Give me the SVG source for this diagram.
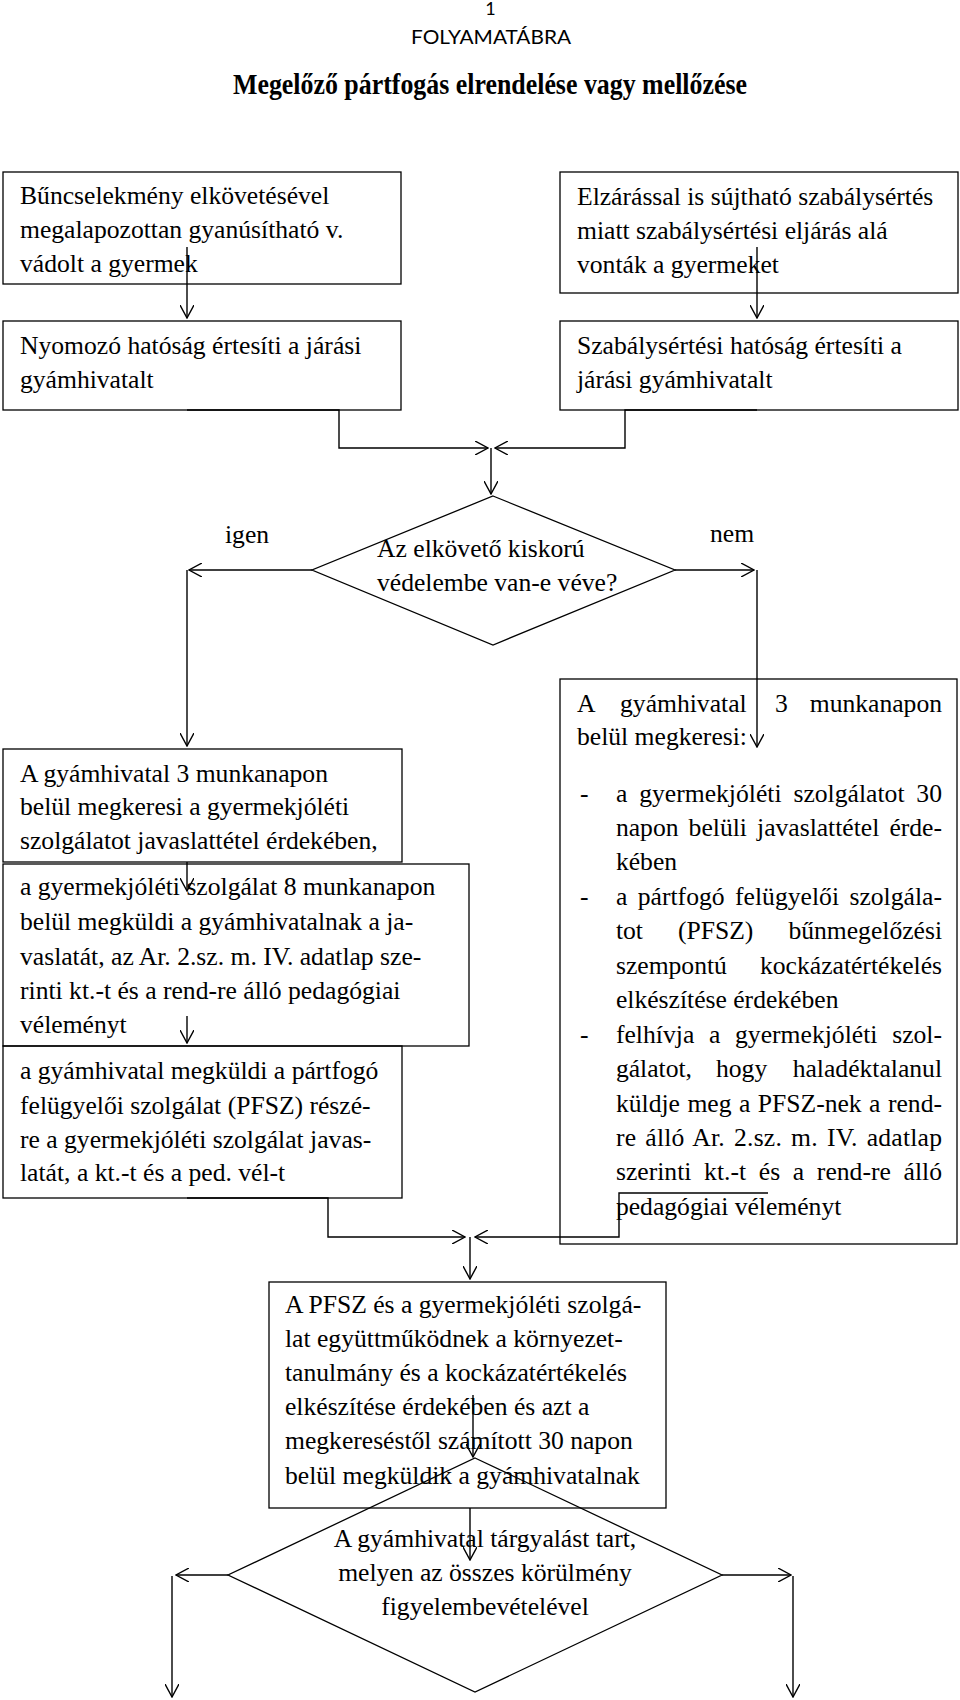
<svg xmlns="http://www.w3.org/2000/svg" width="960" height="1700" viewBox="0 0 960 1700">
<style>
.t{font-family:"Liberation Serif","Times New Roman",serif;font-size:25px;fill:#000}
.ti{font-family:"Liberation Serif","Times New Roman",serif;font-size:30px;font-weight:bold;fill:#000}
.h{font-family:Lato,"Open Sans",sans-serif;fill:#000}
.b{fill:none;stroke:#000;stroke-width:1.3}
.c{fill:none;stroke:#000;stroke-width:1.4;marker-end:url(#ah)}
.m{text-anchor:middle}
.e{text-anchor:end}
</style>
<defs>
<marker id="ah" viewBox="0 0 14 14" markerWidth="14" markerHeight="14" refX="13" refY="7" orient="auto" markerUnits="userSpaceOnUse">
<path d="M0,0 L13,7 L0,14" fill="none" stroke="#000" stroke-width="1.4"/>
</marker>
</defs>
<rect x="0" y="0" width="960" height="1700" fill="#fff"/>

<g id="header">
<text class="h m" x="490.5" y="15" font-size="18">1</text>
<text class="h m" x="491" y="44" font-size="20" textLength="160" lengthAdjust="spacingAndGlyphs">FOLYAMATÁBRA</text>
<text class="ti m" x="490" y="94" textLength="514" lengthAdjust="spacingAndGlyphs">Megelőző pártfogás elrendelése vagy mellőzése</text>
</g>

<g id="n1">
<rect class="b" x="3" y="172" width="398" height="112"/>
<g transform="translate(20 0) scale(1.025 1)">
<text class="t" x="0" y="204">Bűncselekmény elkövetésével</text>
<text class="t" x="0" y="238">megalapozottan gyanúsítható v.</text>
<text class="t" x="0" y="272">vádolt a gyermek</text>
</g>
</g>

<g id="n2">
<rect class="b" x="3" y="321" width="398" height="89"/>
<g transform="translate(20 0) scale(1.025 1)">
<text class="t" x="0" y="354">Nyomozó hatóság értesíti a járási</text>
<text class="t" x="0" y="388">gyámhivatalt</text>
</g>
</g>

<g id="n3">
<rect class="b" x="560" y="172" width="398" height="121"/>
<g transform="translate(577 0) scale(1.025 1)">
<text class="t" x="0" y="205">Elzárással is sújtható szabálysértés</text>
<text class="t" x="0" y="239">miatt szabálysértési eljárás alá</text>
<text class="t" x="0" y="273">vonták a gyermeket</text>
</g>
</g>

<g id="n4">
<rect class="b" x="560" y="321" width="398" height="89"/>
<g transform="translate(577 0) scale(1.025 1)">
<text class="t" x="0" y="354">Szabálysértési hatóság értesíti a</text>
<text class="t" x="0" y="388">járási gyámhivatalt</text>
</g>
</g>

<g id="d1">
<polygon class="b" points="493,496 675,570 493,645 312,570"/>
<g transform="translate(377 0) scale(1.025 1)">
<text class="t" x="0" y="557">Az elkövető kiskorú</text>
<text class="t" x="0" y="591">védelembe van-e véve?</text>
</g>
</g>

<g id="labels">
<g transform="translate(225 0) scale(1.025 1)"><text class="t" x="0" y="543">igen</text></g>
<g transform="translate(710 0) scale(1.025 1)"><text class="t" x="0" y="542">nem</text></g>
</g>

<g id="n5">
<rect class="b" x="3" y="749" width="399" height="113"/>
<g transform="translate(20 0) scale(1.025 1)">
<text class="t" x="0" y="782">A gyámhivatal 3 munkanapon</text>
<text class="t" x="0" y="815">belül megkeresi a gyermekjóléti</text>
<text class="t" x="0" y="849">szolgálatot javaslattétel érdekében,</text>
</g>
</g>

<g id="n6">
<rect class="b" x="3" y="864" width="466" height="182"/>
<g transform="translate(20 0) scale(1.025 1)">
<text class="t" x="0" y="895">a gyermekjóléti szolgálat 8 munkanapon</text>
<text class="t" x="0" y="930">belül megküldi a gyámhivatalnak a ja-</text>
<text class="t" x="0" y="965">vaslatát, az Ar. 2.sz. m. IV. adatlap sze-</text>
<text class="t" x="0" y="999">rinti kt.-t és a rend-re álló pedagógiai</text>
<text class="t" x="0" y="1033">véleményt</text>
</g>
</g>

<g id="n7">
<rect class="b" x="3" y="1046" width="399" height="152"/>
<g transform="translate(20 0) scale(1.025 1)">
<text class="t" x="0" y="1079">a gyámhivatal megküldi a pártfogó</text>
<text class="t" x="0" y="1114">felügyelői szolgálat (PFSZ) részé-</text>
<text class="t" x="0" y="1148">re a gyermekjóléti szolgálat javas-</text>
<text class="t" x="0" y="1181">latát, a kt.-t és a ped. vél-t</text>
</g>
</g>

<g id="n8">
<rect class="b" x="560" y="679" width="397" height="565"/>
<g transform="translate(577 0) scale(1.025 1)">
<text class="t" x="0" y="712">A</text>
<text class="t" x="42" y="712">gyámhivatal</text>
<text class="t" x="193.2" y="712">3</text>
<text class="t e" x="356.1" y="712">munkanapon</text>
<text class="t" x="0" y="745">belül megkeresi:</text>
<text class="t" x="2.9" y="802">-</text>
<text class="t" x="38" y="802" word-spacing="5.3" textLength="318.1" lengthAdjust="spacing">a gyermekjóléti szolgálatot 30</text>
<text class="t" x="38" y="836" word-spacing="3.6" textLength="318.1" lengthAdjust="spacing">napon belüli javaslattétel érde-</text>
<text class="t" x="38" y="870.5">kében</text>
<text class="t" x="2.9" y="905">-</text>
<text class="t" x="38" y="905" word-spacing="3.9" textLength="318.1" lengthAdjust="spacing">a pártfogó felügyelői szolgála-</text>
<text class="t" x="38" y="939">tot</text>
<text class="t" x="98.5" y="939">(PFSZ)</text>
<text class="t e" x="356.1" y="939">bűnmegelőzési</text>
<text class="t" x="38" y="974">szempontú</text>
<text class="t e" x="356.1" y="974">kockázatértékelés</text>
<text class="t" x="38" y="1008">elkészítése érdekében</text>
<text class="t" x="2.9" y="1043">-</text>
<text class="t" x="38" y="1043" word-spacing="8.1" textLength="318.1" lengthAdjust="spacing">felhívja a gyermekjóléti szol-</text>
<text class="t" x="38" y="1077">gálatot,</text>
<text class="t" x="135.6" y="1077">hogy</text>
<text class="t e" x="356.1" y="1077">haladéktalanul</text>
<text class="t" x="38" y="1112" word-spacing="1" textLength="318.1" lengthAdjust="spacing">küldje meg a PFSZ-nek a rend-</text>
<text class="t" x="38" y="1146" word-spacing="2.4" textLength="318.1" lengthAdjust="spacing">re álló Ar. 2.sz. m. IV. adatlap</text>
<text class="t" x="38" y="1180.5" word-spacing="6.1" textLength="318.1" lengthAdjust="spacing">szerinti kt.-t és a rend-re álló</text>
<text class="t" x="38" y="1215">pedagógiai véleményt</text>
</g>
</g>

<g id="n9">
<rect class="b" x="269" y="1282" width="397" height="226"/>
<g transform="translate(285 0) scale(1.025 1)">
<text class="t" x="0" y="1313">A PFSZ és a gyermekjóléti szolgá-</text>
<text class="t" x="0" y="1347">lat együttműködnek a környezet-</text>
<text class="t" x="0" y="1381">tanulmány és a kockázatértékelés</text>
<text class="t" x="0" y="1415">elkészítése érdekében és azt a</text>
<text class="t" x="0" y="1449">megkereséstől számított 30 napon</text>
<text class="t" x="0" y="1484">belül megküldik a gyámhivatalnak</text>
</g>
</g>

<g id="d2">
<polygon class="b" points="475,1458 722,1575 475,1692 228,1575"/>
<g transform="translate(485 0) scale(1.025 1)">
<text class="t m" x="0" y="1547">A gyámhivatal tárgyalást tart,</text>
<text class="t m" x="0" y="1581">melyen az összes körülmény</text>
<text class="t m" x="0" y="1615">figyelembevételével</text>
</g>
</g>

<g id="connectors">
<path class="c" d="M187,247 V318"/>
<path class="c" d="M757,247 V318"/>
<path class="c" d="M187,410 H339 V448 H488"/>
<path class="c" d="M757,410 H625 V448 H495"/>
<path class="c" d="M491,448 V494"/>
<path class="c" d="M312,570 H189"/>
<path class="c" d="M187,570 V746"/>
<path class="c" d="M675,570 H754"/>
<path class="c" d="M757,570 V747"/>
<path class="c" d="M187,862 V891"/>
<path class="c" d="M187,1016 V1043"/>
<path class="c" d="M187,1198 H328 V1237 H465"/>
<path class="c" d="M768,1193 H619 V1237 H475"/>
<path class="c" d="M470,1237 V1279"/>
<path class="c" d="M473,1395 V1457"/>
<path class="c" d="M470,1508 V1560"/>
<path class="c" d="M228,1575 H176"/>
<path class="c" d="M172,1576 V1697"/>
<path class="c" d="M722,1575 H791"/>
<path class="c" d="M793,1576 V1697"/>
</g>
</svg>
